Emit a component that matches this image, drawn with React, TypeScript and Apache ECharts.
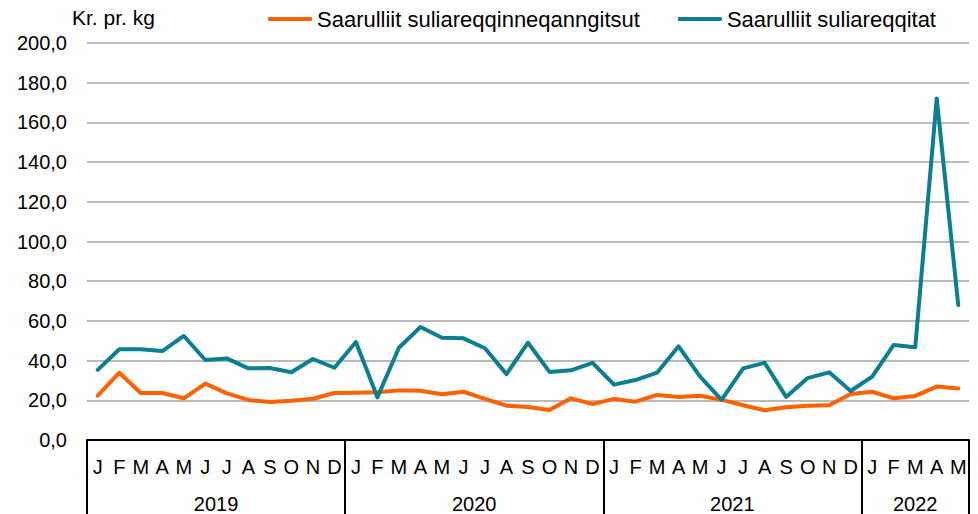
import React, { useEffect, useRef } from 'react';
import * as echarts from 'echarts';

const months = [
  'J','F','M','A','M','J','J','A','S','O','N','D',
  'J','F','M','A','M','J','J','A','S','O','N','D',
  'J','F','M','A','M','J','J','A','S','O','N','D',
  'J','F','M','A','M',
];
const yearNames = ['2019', '2020', '2021', '2022'];
const monthsPerYear = [12, 12, 12, 5];

const seriesNames = ['Saarulliit suliareqqinneqanngitsut', 'Saarulliit suliareqqitat'];

const unprocessed = [
  22.3, 33.9, 23.7, 23.7, 21.0, 28.4, 23.5, 20.2, 19.1, 19.8, 20.8, 23.7,
  23.8, 24.0, 25.0, 24.8, 23.0, 24.3, 20.7, 17.3, 16.6, 15.1, 21.0, 18.1,
  20.7, 19.3, 22.7, 21.7, 22.3, 20.2, 17.5, 15.0, 16.5, 17.3, 17.5, 23.2,
  24.3, 21.0, 22.2, 26.9, 26.0,
];
const processed = [
  35.3, 45.7, 45.7, 44.8, 52.4, 40.3, 41.1, 36.1, 36.3, 34.1, 40.8, 36.4,
  49.4, 21.5, 46.5, 56.9, 51.5, 51.2, 46.2, 33.2, 49.0, 34.3, 35.1, 38.9,
  27.9, 30.2, 33.9, 47.2, 31.9, 20.2, 36.1, 38.9, 21.7, 31.2, 34.1, 24.7,
  31.9, 47.9, 46.7, 172.1, 68.0,
];

const yMin = 0;
const yMax = 200;
const yStep = 20;
const unitLabel = 'Kr. pr. kg';

const FONT = '"Liberation Sans", Arial, sans-serif';

export default function App() {
  const ref = useRef<HTMLDivElement>(null);

  useEffect(() => {
    if (!ref.current) return;
    const chart = echarts.init(ref.current, null, { renderer: 'svg' });

    const yearCentres: { c: number; name: string }[] = [];
    const yearStarts: number[] = [];
    let start = 0;
    monthsPerYear.forEach((n, i) => {
      yearStarts.push(start);
      yearCentres.push({ c: start + n / 2, name: yearNames[i] });
      start += n;
    });

    chart.setOption({
      animation: false,
      textStyle: { fontFamily: FONT },
      title: {
        text: unitLabel,
        left: 72,
        top: 7,
        padding: 0,
        textStyle: { fontFamily: FONT, fontSize: 21, fontWeight: 'normal', color: '#000' },
      },
      legend: {
        left: 268,
        top: 8,
        padding: 0,
        itemWidth: 44,
        itemHeight: 4,
        itemGap: 38,
        icon: 'roundRect',
        textStyle: { fontFamily: FONT, fontSize: 22, color: '#000' },
        data: seriesNames,
      },
      grid: { left: 87, right: 9, top: 43, bottom: 74, containLabel: false },
      xAxis: [
        {
          type: 'category',
          data: months,
          boundaryGap: true,
          position: 'bottom',
          axisLine: { show: true, lineStyle: { color: '#000', width: 2 } },
          axisTick: {
            show: true,
            length: 74,
            interval: (index: number) => yearStarts.includes(index),
            lineStyle: { color: '#000', width: 2 },
          },
          axisLabel: {
            interval: 0,
            margin: 17,
            fontFamily: FONT,
            fontSize: 20,
            color: '#000',
          },
          splitLine: { show: false },
        },
        {
          type: 'value',
          position: 'bottom',
          min: 0,
          max: months.length,
          interval: 0.5,
          axisLine: { show: false },
          axisTick: { show: false },
          splitLine: { show: false },
          axisLabel: {
            margin: 54,
            fontFamily: FONT,
            fontSize: 20,
            color: '#000',
            showMinLabel: true,
            showMaxLabel: true,
            formatter: (v: number) => {
              const f = yearCentres.find((y) => Math.abs(y.c - v) < 1e-6);
              return f ? f.name : '';
            },
          },
        },
      ],
      yAxis: {
        type: 'value',
        min: yMin,
        max: yMax,
        interval: yStep,
        axisLine: { show: false },
        axisTick: { show: false },
        axisLabel: {
          margin: 20,
          fontFamily: FONT,
          fontSize: 20,
          color: '#000',
          formatter: (v: number) => v.toFixed(1).replace('.', ','),
        },
        splitLine: { show: true, lineStyle: { color: '#a3a3a3', width: 1.6 } },
      },
      series: [
        {
          name: seriesNames[0],
          type: 'line',
          xAxisIndex: 0,
          data: unprocessed,
          symbol: 'none',
          lineStyle: { color: '#ff6000', width: 4, cap: 'round', join: 'round' },
          itemStyle: { color: '#ff6000' },
        },
        {
          name: seriesNames[1],
          type: 'line',
          xAxisIndex: 0,
          data: processed,
          symbol: 'none',
          lineStyle: { color: '#0a7f92', width: 4, cap: 'round', join: 'round' },
          itemStyle: { color: '#0a7f92' },
        },
      ],
    });

    return () => chart.dispose();
  }, []);

  return (
    <div
      ref={ref}
      style={{ position: 'absolute', left: 0, top: 0, width: 978, height: 514, background: '#fff' }}
    />
  );
}
